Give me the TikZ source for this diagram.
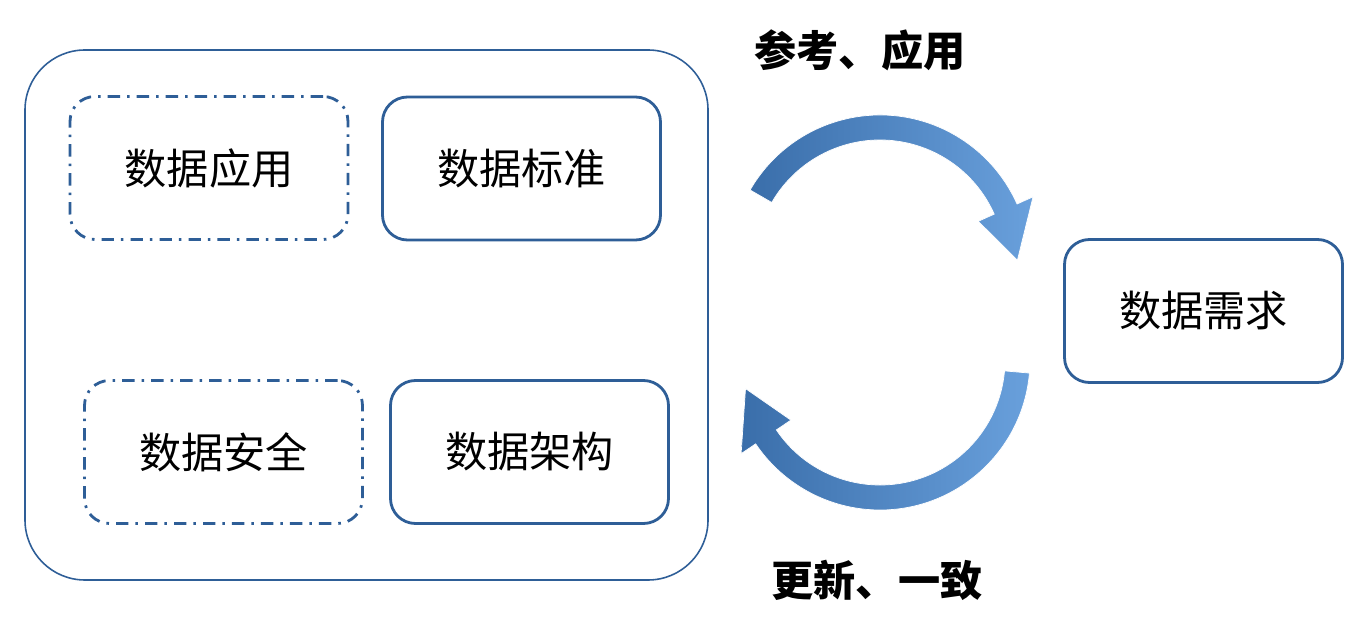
\documentclass[tikz,border=0pt]{standalone}
\usepackage{fontspec}
\setmainfont{Noto Sans CJK SC}
\usetikzlibrary{calc}
\definecolor{boxblue}{RGB}{46,94,151}
\definecolor{arrowdark}{RGB}{58,110,170}
\definecolor{arrowlight}{RGB}{105,160,220}

\begin{document}
\begin{tikzpicture}[
    solid box/.style={rectangle, rounded corners=0.5cm, draw=boxblue, line width=1.6pt, minimum width=5.56cm, minimum height=2.86cm, font=\fontsize{24}{28}\selectfont},
    dash box/.style={solid box, dash pattern=on 7pt off 4pt on 1.5pt off 4pt},
    label/.style={font=\bfseries\fontsize{24}{28}\selectfont},
    turn arrow/.style={draw=white, line width=0.4pt, left color=arrowdark, right color=arrowlight}
]
    \useasboundingbox (0,0) rectangle (27.4,12.44);

    % Outer frame
    \node[rectangle, rounded corners=1.2cm, draw=boxblue, line width=0.9pt, minimum width=13.66cm, minimum height=10.6cm] (frame) at (7.33,6.14) {};

    % Inner boxes
    \node[dash box] (app) at (4.18,9.08) {数据应用};
    \node[solid box] (std) at (10.43,9.07) {数据标准};
    \node[dash box] (sec) at (4.47,3.40) {数据安全};
    \node[solid box] (arch) at (10.59,3.40) {数据架构};

    % Requirement box
    \node[solid box] (req) at (24.07,6.22) {数据需求};

    % Arrows
    \coordinate (ctop) at (17.6,7.14);
    \coordinate (cbot) at (17.6,5.24);
    \path[turn arrow] ($(ctop)+(150:3.0)$) arc[start angle=150, end angle=24, radius=3.0]
        -- ($(ctop)+(24:3.35)$) -- ($(ctop)+(2:2.75)$) -- ($(ctop)+(24:2.15)$)
        -- ($(ctop)+(24:2.5)$) arc[start angle=24, end angle=150, radius=2.5] -- cycle;
    \path[turn arrow] ($(cbot)+(355:3.0)$) arc[start angle=355, end angle=214, radius=3.0]
        -- ($(cbot)+(214:3.35)$) -- ($(cbot)+(192:2.75)$) -- ($(cbot)+(214:2.15)$)
        -- ($(cbot)+(214:2.5)$) arc[start angle=214, end angle=355, radius=2.5] -- cycle;

    % Labels
    \node[label] (refuse) at (17.2,11.44) {参考、应用};
    \node[label] (update) at (17.54,0.84) {更新、一致};
\end{tikzpicture}
\end{document}
